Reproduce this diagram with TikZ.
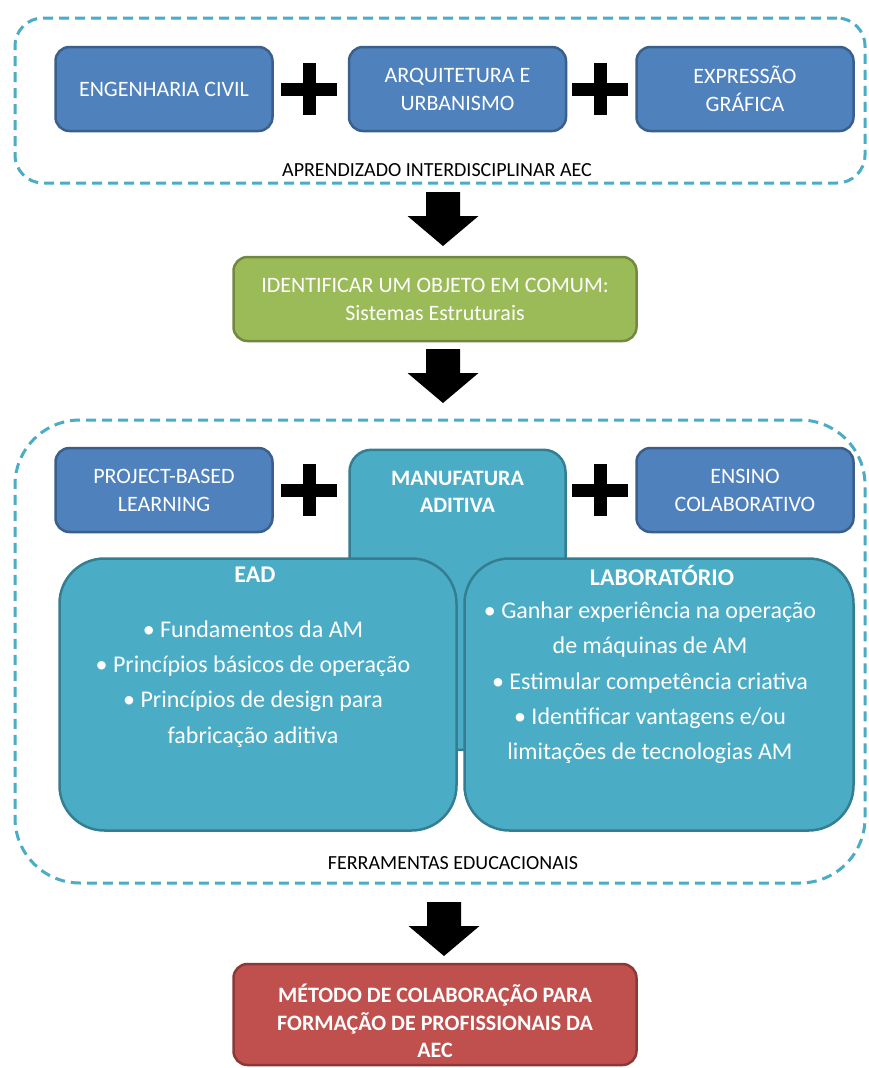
\documentclass[tikz,border=0pt]{standalone}
\usepackage{fontspec}
\setmainfont{Carlito}
\definecolor{dashc}{HTML}{4BACC6}
\definecolor{bluef}{HTML}{4F81BD}
\definecolor{blueb}{HTML}{3A5F8B}
\definecolor{greenf}{HTML}{9BBB59}
\definecolor{greenb}{HTML}{71893F}
\definecolor{tealf}{HTML}{4BACC6}
\definecolor{tealb}{HTML}{357D91}
\definecolor{redf}{HTML}{C0504D}
\definecolor{redb}{HTML}{8C3836}
\newcommand{\myblockarrow}[1]{\fill[black] (#1) ++(-17,0) -- ++(34,0) -- ++(0,24) -- ++(18.5,0) -- ++(-35.5,30) -- ++(-35.5,-30) -- ++(18.5,0) -- cycle;}
\begin{document}
\begin{tikzpicture}[x=1pt,y=-1pt,
  dashbox/.style={draw=dashc, line width=3pt, dash pattern=on 10pt off 6pt, inner sep=0pt},
  bluebox/.style={draw=blueb, fill=bluef, line width=2.5pt, rounded corners=14pt, minimum width=217pt, minimum height=84pt, inner sep=0pt, text=white, align=center, font=\fontsize{22}{28}\selectfont},
  greenbox/.style={draw=greenb, fill=greenf, line width=2.5pt, rounded corners=14pt, minimum width=403pt, minimum height=84pt, inner sep=0pt, text=white, align=center, font=\fontsize{22}{28}\selectfont},
  tealbox/.style={draw=tealb, fill=tealf, line width=2.5pt, inner sep=0pt},
  redbox/.style={draw=redb, fill=redf, line width=2.5pt, rounded corners=14pt, minimum width=403pt, minimum height=101pt, inner sep=0pt},
  whitebold/.style={text=white, align=center, inner sep=0pt, font=\fontsize{22}{27.5}\selectfont\bfseries},
  titletext/.style={text=white, align=center, inner sep=0pt, font=\fontsize{24}{30}\selectfont\bfseries},
  bodytext/.style={text=white, align=center, inner sep=0pt, font=\fontsize{24}{35.3}\selectfont},
  lbl/.style={text=black, inner sep=0pt, font=\fontsize{20}{24}\selectfont},
  plusbar/.style={draw=black, line width=13pt, line cap=butt}]
\fill[white] (0,0) rectangle (868,1068);
\useasboundingbox (0,0) rectangle (868,1068);

% top group
\node[dashbox, rounded corners=28pt, minimum width=850pt, minimum height=165pt] (aec) at (440,100.5) {};
\node[bluebox] (eng) at (164,89) {ENGENHARIA CIVIL};
\node[bluebox] (arq) at (457.5,89) {ARQUITETURA E\\URBANISMO};
\node[bluebox] (exp) at (745,89) {EXPRESSÃO\\GRÁFICA};
\coordinate (p1) at (309,89);
\coordinate (p2) at (600,89);
\draw[plusbar] (p1) ++(-28,0) -- ++(56,0) (p1) ++(0,-26) -- ++(0,52);
\draw[plusbar] (p2) ++(-28,0) -- ++(56,0) (p2) ++(0,-26) -- ++(0,52);
\node[lbl] (aeclbl) at (437,170) {APRENDIZADO INTERDISCIPLINAR AEC};

% arrow 1
\coordinate (a1) at (443,192);
\myblockarrow{a1}

% green
\node[greenbox] (obj) at (435,299) {IDENTIFICAR UM OBJETO EM COMUM:\\Sistemas Estruturais};

% arrow 2
\coordinate (a2) at (443,349);
\myblockarrow{a2}

% bottom group
\node[dashbox, rounded corners=65pt, minimum width=850pt, minimum height=463pt] (fer) at (440,651.5) {};
\node[bluebox] (pbl) at (164,490) {PROJECT-BASED\\LEARNING};
\node[bluebox] (ens) at (745,490) {ENSINO\\COLABORATIVO};
\coordinate (p3) at (309,490);
\coordinate (p4) at (600,490);
\draw[plusbar] (p3) ++(-28,0) -- ++(56,0) (p3) ++(0,-26) -- ++(0,52);
\draw[plusbar] (p4) ++(-28,0) -- ++(56,0) (p4) ++(0,-26) -- ++(0,52);

\node[tealbox, rounded corners=22pt, minimum width=216pt, minimum height=300pt, anchor=north] (ma) at (457.5,448.5) {};
\node[whitebold] (matxt) at (457.5,492) {MANUFATURA\\ADITIVA};

\node[tealbox, rounded corners=45pt, minimum width=397pt, minimum height=272pt] (ead) at (258,694.5) {};
\node[tealbox, rounded corners=45pt, minimum width=389pt, minimum height=272pt] (lab) at (659,694.5) {};

\node[titletext] (eadt) at (255,575) {EAD};
\node[titletext] (labt) at (662,575) {LABORATÓRIO};
\node[bodytext] (eadb) at (253,684) {• Fundamentos da AM\\• Princípios básicos de operação\\• Princípios de design para\\fabricação aditiva};
\node[bodytext] (labb) at (650,683) {• Ganhar experiência na operação\\de máquinas de AM\\• Estimular competência criativa\\• Identificar vantagens e/ou\\limitações de tecnologias AM};

\node[lbl] (ferlbl) at (453,863) {FERRAMENTAS EDUCACIONAIS};

% arrow 3
\coordinate (a3) at (444,902);
\myblockarrow{a3}

% red
\node[redbox] (met) at (435,1014.5) {};
\node[whitebold] (mettxt) at (435,1021) {MÉTODO DE COLABORAÇÃO PARA\\FORMAÇÃO DE PROFISSIONAIS DA\\AEC};
\end{tikzpicture}
\end{document}
